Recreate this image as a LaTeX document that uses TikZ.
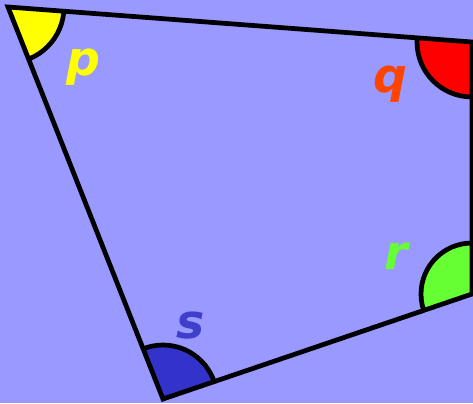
\documentclass[tikz,border=0pt]{standalone}
\usepackage{fontspec}
\setmainfont{DejaVu Sans}
\definecolor{bgblue}{HTML}{9999FF}
\definecolor{angyellow}{HTML}{FFFF00}
\definecolor{angred}{HTML}{FF0000}
\definecolor{qorange}{HTML}{FF4400}
\definecolor{anggreen}{HTML}{66FF33}
\definecolor{angblue}{HTML}{3333CC}
\definecolor{sblue}{HTML}{3F3FCC}
\tikzset{
  anglefill/.style={draw=black, fill=#1},
  anglelabel/.style={text=#1, anchor=base, inner sep=0pt,
    font=\fontsize{27}{30}\selectfont\bfseries\itshape}
}
\begin{document}
\begin{tikzpicture}[x=0.02cm,y=-0.02cm,line width=2.7pt]
  \fill[bgblue] (0,0) rectangle (473,403);
  \clip (0,0) rectangle (473,403);
  \coordinate (P) at (8,7);
  \coordinate (Q) at (472,42);
  \coordinate (R) at (472,294);
  \coordinate (S) at (163,399);
  % angle sectors, cut down to the inside of the shape
  \begin{scope}
    \clip (P) -- (Q) -- (R) -- (S) -- cycle;
    \filldraw[anglefill=angyellow] (P) circle (1.12cm);
    \filldraw[anglefill=angred] (Q) circle (1.1cm);
    \filldraw[anglefill=anggreen] (R) circle (1.02cm);
    \filldraw[anglefill=angblue] (S) circle (1.08cm);
  \end{scope}
  \draw[line join=miter] (P) -- (Q) -- (R) -- (S) -- cycle;
  \node[anglelabel=angyellow] (p) at (83,75) {p};
  \node[anglelabel=qorange] (q) at (390,92) {q};
  \node[anglelabel=anggreen] (r) at (396,269) {r};
  \node[anglelabel=sblue] (s) at (191,338) {s};
\end{tikzpicture}
\end{document}
